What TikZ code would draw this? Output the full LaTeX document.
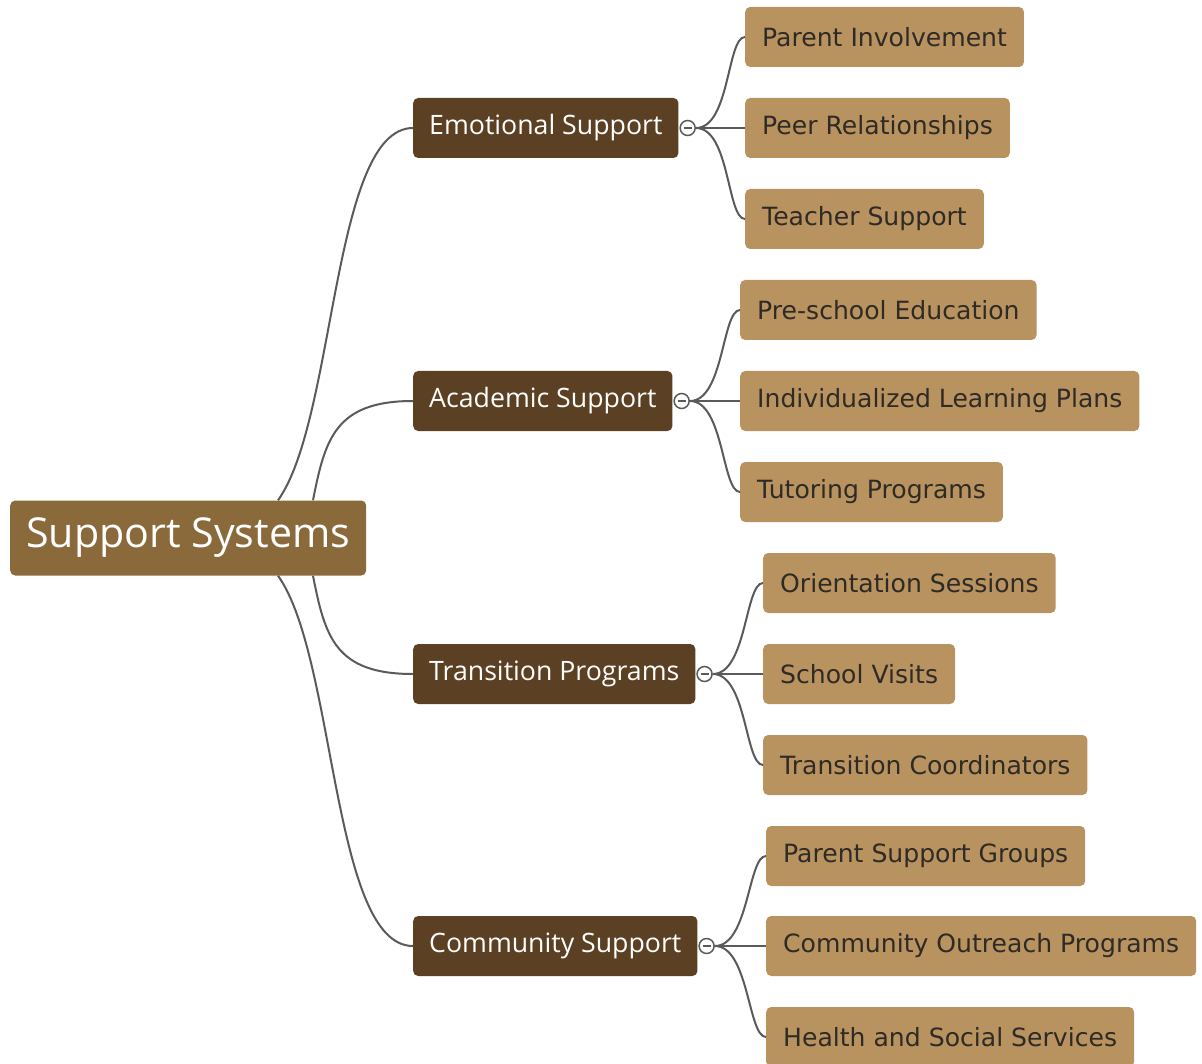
\documentclass[tikz,border=0pt]{standalone}
\usepackage{fontspec}
\setmainfont{DejaVu Sans}
\newfontfamily\topicfont{Open Sans}
\usetikzlibrary{positioning}

\definecolor{rootbrown}{HTML}{8A6A3B}
\definecolor{topicbrown}{HTML}{5C4023}
\definecolor{leaftan}{HTML}{B8935F}
\definecolor{linegray}{HTML}{5A5A5A}
\definecolor{leaftext}{HTML}{2E2A25}

\tikzset{
  rootbox/.style={rectangle, rounded corners=5pt, fill=rootbrown, text=white, anchor=west,
    minimum height=75pt, inner xsep=16pt, font=\topicfont\fontsize{41.2}{46}\selectfont},
  topicbox/.style={rectangle, rounded corners=5pt, fill=topicbrown, text=white, anchor=west,
    minimum height=60pt, inner xsep=16pt, font=\topicfont\fontsize{26.7}{30}\selectfont},
  leafbox/.style={rectangle, rounded corners=5pt, fill=leaftan, text=leaftext, anchor=west,
    minimum height=60pt, inner xsep=17pt, font=\fontsize{25.1}{28}\selectfont},
  collapse/.style={circle, draw=linegray, fill=white, line width=1.5pt, inner sep=0pt, minimum size=15pt},
  link/.style={draw=linegray, line width=2pt}
}

\begin{document}
\begin{tikzpicture}[x=1pt, y=-1pt]
        \useasboundingbox (0,0) rectangle (1202,1064);

        % Wurzel und Hauptthemen
        \node[rootbox] (ss) at (10,538) {Support Systems};
        \node[topicbox] (emo) at (413,128) {Emotional Support};
        \node[topicbox] (aca) at (413,401) {Academic Support};
        \node[topicbox] (tra) at (413,674) {Transition Programs};
        \node[topicbox] (com) at (413,946) {Community Support};

        % Blaetter
        \node[leafbox] (pi) at (745,37) {Parent Involvement};
        \node[leafbox] (pr) at (745,128) {Peer Relationships};
        \node[leafbox] (ts) at (745,219) {Teacher Support};
        \node[leafbox] (pse) at (740,310) {Pre-school Education};
        \node[leafbox] (ilp) at (740,401) {Individualized Learning Plans};
        \node[leafbox] (tp) at (740,492) {Tutoring Programs};
        \node[leafbox] (os) at (763,583) {Orientation Sessions};
        \node[leafbox] (sv) at (763,674) {School Visits};
        \node[leafbox] (tc) at (763,765) {Transition Coordinators};
        \node[leafbox] (psg) at (766,856) {Parent Support Groups};
        \node[leafbox] (cop) at (766,946) {Community Outreach Programs};
        \node[leafbox] (hss) at (766,1037) {Health and Social Services};

        % Knoepfe
        \node[collapse] (emoc) at ([xshift=9pt]emo.east) {};
        \node[collapse] (acac) at ([xshift=9pt]aca.east) {};
        \node[collapse] (trac) at ([xshift=9pt]tra.east) {};
        \node[collapse] (comc) at ([xshift=9pt]com.east) {};

        % Wurzel -> Themen
        \draw[link] ([xshift=268pt]ss.north west) .. controls +(58,-81) and (332,128) .. (emo.west);
        \draw[link] ([xshift=303pt]ss.north west) .. controls +(12,-61) and (335,401) .. (aca.west);
        \draw[link] ([xshift=303pt]ss.south west) .. controls +(12,61) and (335,674) .. (tra.west);
        \draw[link] ([xshift=268pt]ss.south west) .. controls +(58,81) and (332,946) .. (com.west);

        % Themen -> Blaetter
        \foreach \t/\a/\b/\c in {emoc/pi/pr/ts, acac/pse/ilp/tp, trac/os/sv/tc, comc/psg/cop/hss}{
          \draw[link] (\t.east) .. controls +(34,0) and ([xshift=-18pt]\a.west) .. (\a.west);
          \draw[link] (\t.east) -- (\b.west);
          \draw[link] (\t.east) .. controls +(34,0) and ([xshift=-18pt]\c.west) .. (\c.west);
          \draw[linegray, line width=1.5pt] ([xshift=-4pt]\t.center) -- ([xshift=4pt]\t.center);
        }
\end{tikzpicture}
\end{document}
